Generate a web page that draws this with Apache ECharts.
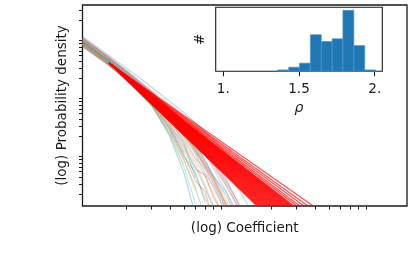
<!DOCTYPE html>
<html><head><meta charset="utf-8">
<script src="https://cdn.jsdelivr.net/npm/echarts@6/dist/echarts.min.js"></script>
<style>html,body{margin:0;padding:0;background:#fff}#c{width:416px;height:257px}</style>
</head><body><div id="c"></div>
<script>
// ---- data ----
const coefX = [1, 1.5, 2, 3, 4, 5, 6, 7, 8, 10, 12, 14, 17, 20];
const densityA = [0.106, 0.0511, 0.0305, 0.0141, 0.00808, 0.0052, 0.00346, 0.00242, 0.00176, 0.000965, 0.000547, 0.000314, 0.000122, 0.0000503];
const densityB = [0.098, 0.0472, 0.0271, 0.0125, 0.00717, 0.00443, 0.00295, 0.00198, 0.00139, 0.000731, 0.000398, 0.00022, 0.0000888];
const densityC = [0.087, 0.0419, 0.024, 0.0111, 0.00612, 0.00364, 0.00224, 0.00144, 0.000969, 0.000472, 0.000238, 0.000126, 0.000053];
const densityD = [0.0772, 0.0372, 0.0213, 0.00949, 0.00502, 0.00287, 0.00169, 0.00101, 0.000626, 0.00026, 0.000112];
const densityE = [0.0942, 0.0454, 0.026, 0.0111, 0.00565, 0.00298, 0.00163, 0.000933, 0.000556, 0.000205, 0.0000848];
const densityF = [0.0713, 0.0344, 0.0197, 0.00842, 0.00411, 0.00209, 0.00109, 0.00058, 0.000319, 0.000104];
const densityG = [0.0836, 0.0403, 0.0222, 0.00876, 0.0038, 0.00164, 0.000707, 0.000295, 0.000128, 0.0000317];
const densityH = [0.102, 0.0491, 0.0282, 0.012, 0.00588, 0.00298, 0.0015, 0.000765, 0.000389, 0.000118];
const densityI = [0.0742, 0.0358, 0.0197, 0.00748, 0.00299, 0.00115, 0.000439, 0.000176, 0.0000709];
const densityJ = [0.0804, 0.0387, 0.0205, 0.00719, 0.00218, 0.000609, 0.000145, 0.0000333];
const densityK = [0.085, 0.041, 0.0222, 0.00691, 0.00201, 0.00048, 0.00009];
const densityL = [0.0905, 0.0436, 0.024, 0.00949, 0.00411, 0.00185, 0.000829, 0.000405, 0.000206, 0.0000576];
const densityM = [0.0772, 0.0372, 0.0205, 0.00809, 0.00337, 0.00146, 0.000603, 0.000262, 0.000118];
const densityN = [0.098, 0.0472, 0.0271, 0.0116, 0.00612, 0.00349, 0.00207, 0.00128, 0.000795, 0.00033, 0.000136, 0.0000548];
const densityO = [0.0804, 0.0387, 0.0213, 0.00809, 0.00299, 0.00106];
const densityP = [0.0836, 0.0403, 0.0222, 0.00842, 0.00324, 0.0013, 0.000535, 0.000439, 0.000176, 0.0000702];
const densityQ = [0.0942, 0.0454, 0.025, 0.0103, 0.00482, 0.00235, 0.00118, 0.000603, 0.000319, 0.0001];
const densityR = [0.0742, 0.0358, 0.0189, 0.00664, 0.00236, 0.000804, 0.000262, 0.0000796];
const densityS = [0.0772, 0.0372, 0.0197, 0.00691, 0.00218, 0.00066];
const densityT = [0.087, 0.0419, 0.0231, 0.00912, 0.00395, 0.00158, 0.00039];
const densityU = [0.0905, 0.0436, 0.025, 0.0107, 0.00522, 0.00265, 0.00139, 0.000796, 0.000421, 0.000175, 0.0000667];
const densityV = [0.0804, 0.0387, 0.0213, 0.00876, 0.00428, 0.00217, 0.00123, 0.000653, 0.000405, 0.000144, 0.000057];
const densityW = [0.087, 0.0419, 0.0231, 0.00949, 0.00445, 0.002, 0.00101, 0.000457, 0.000283, 0.0000856];
const densityX = [0.0772, 0.0372, 0.0205, 0.00778, 0.00277, 0.00098, 0.000346, 0.000224, 0.0000709];
const densityY = [0.0942, 0.0454, 0.026, 0.0116, 0.00588, 0.00336, 0.00191, 0.00118, 0.000705, 0.000305, 0.000136, 0.0000593];
const densityZ = [0.0836, 0.0403, 0.0231, 0.00987, 0.00463, 0.00235, 0.00118, 0.000627, 0.000359, 0.000118];
const densityAA = [0.0742, 0.0358, 0.0197, 0.00809, 0.00365, 0.00171, 0.000862, 0.000557, 0.000251, 0.0000856];
const densityAB = [0.098, 0.0472, 0.026, 0.0107, 0.00543, 0.0031, 0.00176, 0.00105, 0.000678, 0.000282, 0.000116, 0.0000468];
const densityAC = [0.0804, 0.0387, 0.0213, 0.00748, 0.00255, 0.000804, 0.000233];
const densityAD = [0.087, 0.0419, 0.024, 0.0103, 0.00502, 0.00254, 0.00133, 0.000707, 0.000421, 0.000205, 0.0000723];
const densityAE = [0.0713, 0.0344, 0.0189, 0.00719, 0.00266, 0.000906, 0.000475, 0.00015];
const densityAF = [0.0905, 0.0436, 0.024, 0.00987, 0.00482, 0.00244, 0.00128, 0.000679, 0.000374, 0.000127];
const densityCurves = [densityA, densityB, densityC, densityD, densityE, densityF, densityG, densityH, densityI, densityJ,
                       densityK, densityL, densityM, densityN, densityO, densityP, densityQ, densityR, densityS, densityT,
                       densityU, densityV, densityW, densityX, densityY, densityZ, densityAA, densityAB, densityAC,
                       densityAD, densityAE, densityAF];

// power-law fits: common start point, x where each fit reaches the bottom of the plot
const fitStart = [1.523, 0.0371];
const fitEndY = 1.27e-4;
const fitEndX = [15.97, 16.23, 16.49, 16.75, 17.02, 17.29, 17.57, 17.85, 18.14, 18.43, 18.72, 19.02, 19.33, 19.64, 19.95,
                 20.27, 20.6, 20.93, 21.26, 21.6, 21.95, 22.3, 22.66, 23.02, 23.39, 23.77, 24.15, 24.53, 24.93, 25.33,
                 25.74, 26.15, 26.57, 26.99, 27.42, 27.87, 28.32, 28.77, 30.18, 31.62, 33.71, 35.92, 39.05];

const xRange = [1, 173];
const yRange = [1.27e-4, 0.37];
const xMinorTicks = [2, 3, 4, 5, 6, 7, 8, 9, 20, 30, 40, 50, 60, 70, 80, 90];
const yMinorTicks = [0.0002, 0.0003, 0.0004, 0.0005, 0.0006, 0.0007, 0.0008, 0.0009,
                     0.002, 0.003, 0.004, 0.005, 0.006, 0.007, 0.008, 0.009,
                     0.02, 0.03, 0.04, 0.05, 0.06, 0.07, 0.08, 0.09, 0.2, 0.3];

// inset histogram of rho
const rhoBinEdges = [1.36, 1.432, 1.503, 1.575, 1.647, 1.719, 1.79, 1.862, 1.934, 2.005];
const rhoCounts = [1, 3, 6, 27, 22, 24, 45, 19, 1];
const rhoTicks = [1, 1.5, 2];
const rhoTickLabels = ['1.', '1.5', '2.'];
const rhoRange = [0.95, 2.05];
const countMax = 47.25;

// ---- chart ----
const palette = ['#1f77b4', '#ff7f0e', '#2ca02c', '#d62728', '#9467bd', '#8c564b', '#e377c2', '#7f7f7f', '#bcbd22', '#17becf'];
function hexA(h, a) {
  const n = parseInt(h.slice(1), 16);
  return 'rgba(' + (n >> 16) + ',' + ((n >> 8) & 255) + ',' + (n & 255) + ',' + a + ')';
}
const FONT = 'DejaVu Sans';
const ink = '#1a1a1a';

const series = [];
densityCurves.forEach((curve, k) => {
  series.push({
    type: 'line', xAxisIndex: 0, yAxisIndex: 0, showSymbol: false, silent: true, z: 2,
    data: curve.map((v, i) => [coefX[i], v]),
    lineStyle: { color: hexA(palette[k % 10], 0.3), width: 1.2 }
  });
});
fitEndX.forEach(ex => {
  series.push({
    type: 'line', xAxisIndex: 0, yAxisIndex: 0, showSymbol: false, silent: true, z: 3,
    data: [fitStart, [ex, fitEndY]],
    lineStyle: { color: 'rgba(255,0,0,0.7)', width: 1.1 }
  });
});
series.push({
  type: 'custom', xAxisIndex: 1, yAxisIndex: 1, silent: true, z: 5,
  data: rhoCounts.map((c, i) => [rhoBinEdges[i], rhoBinEdges[i + 1], c]),
  encode: { x: [0, 1], y: 2 },
  renderItem: function (params, api) {
    const p0 = api.coord([api.value(0), api.value(2)]);
    const p1 = api.coord([api.value(1), 0]);
    return { type: 'rect', shape: { x: p0[0], y: p0[1], width: p1[0] - p0[0], height: p1[1] - p0[1] },
             style: { fill: '#1f77b4', stroke: '#4f93c9', lineWidth: 0.7 } };
  }
});

const chart = echarts.init(document.getElementById('c'), null, { renderer: 'canvas' });
chart.setOption({
  animation: false,
  backgroundColor: '#fff',
  textStyle: { fontFamily: FONT },
  grid: [
    { left: 82.5, top: 5, right: 9, bottom: 51, show: true, borderColor: ink, borderWidth: 1.3, backgroundColor: 'transparent' },
    { left: 215.7, top: 7.3, width: 166.6, height: 64, show: true, borderColor: ink, borderWidth: 1.1, backgroundColor: '#fff', z: 4 }
  ],
  xAxis: [
    { type: 'log', gridIndex: 0, min: xRange[0], max: xRange[1], logBase: 10,
      name: '(log) Coefficient', nameLocation: 'middle', nameGap: 15,
      nameTextStyle: { fontSize: 13.5, color: ink, fontFamily: FONT },
      axisLine: { show: false }, splitLine: { show: false }, axisLabel: { show: false },
      axisTick: { show: true, customValues: xMinorTicks, length: 3.5, lineStyle: { color: ink, width: 1 } } },
    { type: 'value', gridIndex: 1, min: rhoRange[0], max: rhoRange[1],
      name: 'ρ', nameLocation: 'middle', nameGap: 30,
      nameTextStyle: { fontSize: 14, color: ink, fontFamily: FONT, fontStyle: 'italic' },
      axisLine: { show: false }, splitLine: { show: false },
      axisTick: { show: true, customValues: rhoTicks, length: 5, lineStyle: { color: ink, width: 1 } },
      axisLabel: { show: true, customValues: rhoTicks, margin: 11, fontSize: 13.5, color: ink, fontFamily: FONT,
                   formatter: v => rhoTickLabels[rhoTicks.indexOf(v)] } }
  ],
  yAxis: [
    { type: 'log', gridIndex: 0, min: yRange[0], max: yRange[1], logBase: 10,
      name: '(log) Probability density', nameLocation: 'middle', nameGap: 13,
      nameTextStyle: { fontSize: 13.5, color: ink, fontFamily: FONT },
      axisLine: { show: false }, splitLine: { show: false }, axisLabel: { show: false },
      axisTick: { show: true, customValues: yMinorTicks, length: 3.5, lineStyle: { color: ink, width: 1 } } },
    { type: 'value', gridIndex: 1, min: 0, max: countMax,
      name: '#', nameLocation: 'middle', nameGap: 8,
      nameTextStyle: { fontSize: 13.5, color: ink, fontFamily: FONT },
      axisLine: { show: false }, splitLine: { show: false }, axisLabel: { show: false }, axisTick: { show: false } }
  ],
  series: series
});
</script></body></html>
